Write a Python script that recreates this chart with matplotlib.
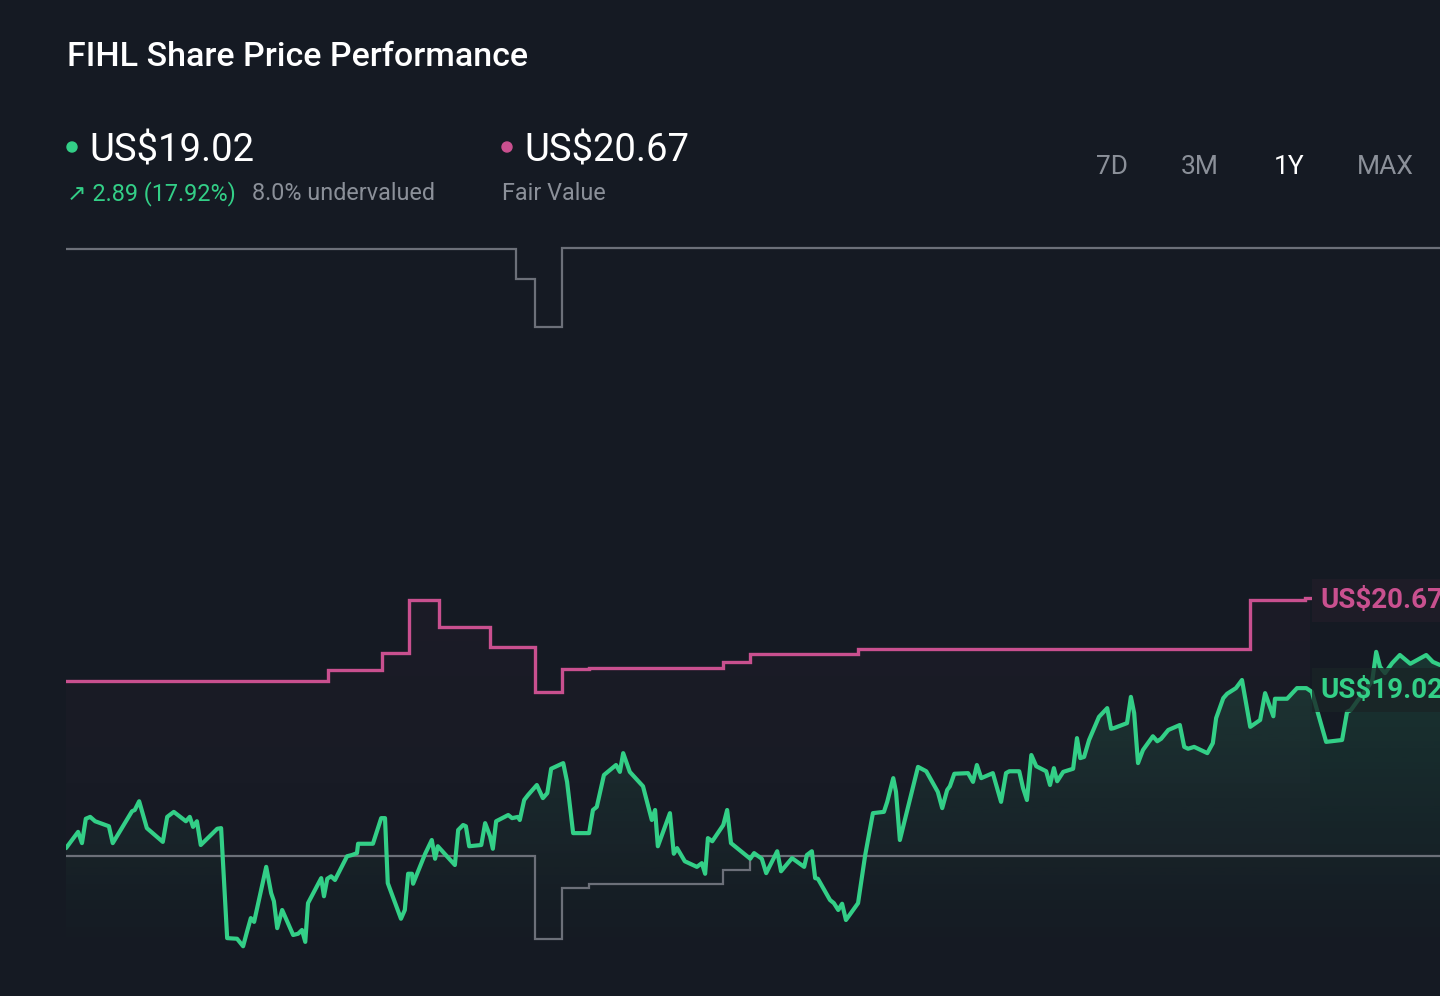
import numpy as np
import matplotlib
matplotlib.use("Agg")
import matplotlib.pyplot as plt
from matplotlib.patches import Ellipse

# ---------------- data ----------------
# trading-day index (0..~250 over 1 year) and share price (US$)
price_days = [0, 2.2, 2.9, 3.6, 4.4, 5.3, 7.8, 8.5, 12.0, 12.5, 13.3, 14.7, 17.6, 18.4, 19.6,
              21.8, 22.5, 23.1, 23.8, 24.5, 27.5, 28.2, 29.3, 31.1, 32.2, 32.9, 33.6, 34.2,
              36.4, 37.3, 37.8, 38.4, 39.3, 41.3, 42.2, 42.9, 43.5, 44.0, 46.4, 46.9, 47.5,
              48.2, 48.9, 51.1, 52.0, 52.9, 53.1, 55.8, 57.3, 58.0, 58.5, 60.9, 61.6, 62.2,
              62.9, 63.1, 65.3, 66.5, 67.1, 67.6, 70.7, 71.3, 72.2, 72.7, 73.3, 75.5, 76.2,
              77.1, 77.6, 78.2, 80.4, 81.1, 82.2, 82.5, 82.9, 83.3, 84.0, 85.6, 86.7, 87.5,
              88.2, 90.4, 91.1, 92.2, 95.1, 95.8, 96.5, 97.8, 100.0, 100.7, 101.3, 102.5,
              104.9, 106.5, 107.1, 107.6, 109.8, 110.5, 111.1, 112.5, 114.7, 115.6, 116.2,
              116.7, 117.5, 119.5, 120.2, 120.9, 124.4, 125.1, 126.5, 127.3, 129.3, 130.0,
              132.0, 134.2, 134.7, 135.6, 136.2, 136.7, 138.9, 139.6, 140.4, 141.1, 141.8,
              144.0, 145.3, 146.7, 148.7, 149.3, 150.4, 150.9, 151.6, 154.9, 156.4, 158.5,
              159.3, 160.2, 160.7, 161.5, 164.0, 164.9, 165.6, 166.4, 168.5, 170.0, 170.9,
              171.5, 173.3, 174.0, 174.7, 175.5, 176.4, 178.2, 178.9, 179.6, 180.2, 181.3,
              183.1, 183.8, 184.4, 185.1, 186.0, 187.8, 189.3, 190.0, 190.5, 192.9, 193.6,
              194.2, 194.9, 195.8, 197.6, 198.4, 199.1, 200.4, 202.5, 203.3, 204.0, 205.1,
              207.5, 208.5, 209.1, 210.4, 211.1, 212.7, 213.8, 215.3, 217.1, 218.0, 219.5,
              219.8, 222.0, 223.8, 225.5, 226.5, 229.1, 232.0, 232.9, 233.6, 234.9, 236.4,
              237.5, 238.2, 238.9, 239.8, 241.1, 242.5, 244.4, 247.3, 248.5, 249.8]
price_vals = [16.09, 16.35, 16.17, 16.56, 16.59, 16.52, 16.44, 16.17, 16.68, 16.70, 16.84, 16.41,
              16.19, 16.59, 16.67, 16.52, 16.59, 16.43, 16.52, 16.14, 16.40, 16.41, 14.65, 14.64,
              14.52, 14.75, 14.97, 14.91, 15.79, 15.37, 15.24, 14.81, 15.10, 14.70, 14.72, 14.78,
              14.59, 15.21, 15.61, 15.32, 15.60, 15.64, 15.58, 15.96, 15.98, 16.01, 16.16, 16.16,
              16.57, 16.57, 15.53, 14.96, 15.10, 15.68, 15.68, 15.52, 16.00, 16.22, 15.92, 16.12,
              15.82, 16.38, 16.46, 16.44, 16.12, 16.14, 16.49, 16.28, 16.08, 16.52, 16.62, 16.57,
              16.59, 16.54, 16.70, 16.86, 16.94, 17.10, 16.89, 16.97, 17.36, 17.45, 17.15, 16.33,
              16.33, 16.70, 16.75, 17.26, 17.42, 17.31, 17.61, 17.31, 17.08, 16.54, 16.70, 16.12,
              16.65, 16.00, 16.09, 15.88, 15.79, 15.85, 15.68, 16.25, 16.20, 16.46, 16.70, 16.17,
              15.92, 16.01, 15.92, 15.69, 16.04, 15.72, 15.93, 15.79, 15.98, 16.04, 15.61, 15.60,
              15.26, 15.21, 15.10, 15.20, 14.94, 15.21, 15.98, 16.65, 16.67, 16.83, 17.21, 16.99,
              16.22, 17.39, 17.32, 16.99, 16.73, 17.02, 17.08, 17.28, 17.29, 17.15, 17.42, 17.21,
              17.29, 16.83, 17.29, 17.32, 17.32, 17.05, 16.86, 17.58, 17.40, 17.32, 17.10, 17.37,
              17.16, 17.31, 17.36, 17.85, 17.53, 17.55, 17.82, 18.19, 18.33, 18.00, 18.01, 18.09,
              18.51, 18.25, 17.45, 17.66, 17.88, 17.80, 17.84, 17.98, 18.06, 17.71, 17.68, 17.71,
              17.61, 17.77, 18.17, 18.49, 18.56, 18.65, 18.78, 18.03, 18.14, 18.57, 18.20, 18.48,
              18.48, 18.65, 18.65, 18.59, 17.79, 17.82, 18.27, 18.30, 18.46, 18.62, 18.78, 19.23,
              18.99, 18.89, 19.05, 19.18, 19.04, 19.18, 19.07, 19.02]

# fair value (step series)
fv_days = [0, 47.6, 57.5, 62.4, 67.8, 77.1, 85.3, 90.2, 95.1, 119.5, 124.4, 144.0, 215.3, 225.3, 226.2]
fv_vals = [18.76, 18.94, 19.21, 20.06, 19.63, 19.31, 18.59, 18.96, 18.97, 19.07, 19.20, 19.28,
           20.06, 20.09, 20.09]

# upper / lower grey step series
up_days = [0, 81.8, 85.3, 90.2, 249.8]
up_vals = [25.68, 25.20, 24.43, 25.69, 25.69]
lo_days = [0, 85.3, 90.2, 95.1, 119.5, 124.4, 249.8]
lo_vals = [15.96, 14.64, 15.45, 15.52, 15.74, 15.96, 15.96]

title = "FIHL Share Price Performance"
last_price_txt = "US$19.02"
fair_value_txt = "US$20.67"
change_txt = "\u2197 2.89 (17.92%)"
valuation_txt = "8.0% undervalued"
fv_caption = "Fair Value"
ranges = ["7D", "3M", "1Y", "MAX"]
active_range = "1Y"

# ---------------- style ----------------
BG = "#151a23"
GREEN = "#33cf87"
PINK = "#c9508f"
GREYLINE = "#6c7079"
GREYTXT = "#8b9099"
FONT = ["Roboto", "DejaVu Sans"]
plt.rcParams["font.family"] = FONT

W, H = 1440, 996
fig = plt.figure(figsize=(W / 100, H / 100), dpi=100, facecolor=BG)

def fx(px):
    return px / W

def fy(py):
    return 1 - py / H

Y_LO, Y_HI = 14.30, 25.98
ax = fig.add_axes([fx(66), fy(960), fx(1440) - fx(66), (960 - 230) / H])
ax.set_facecolor(BG)
ax.set_xlim(0, 249.8)
ax.set_ylim(Y_LO, Y_HI)
ax.axis("off")

days = np.array(price_days)
vals = np.array(price_vals)

# gradient fill under the price line
poly = ax.fill_between(days, vals, Y_LO, facecolor="none", edgecolor="none")
top = vals.max()
n = 256
grad = np.zeros((n, 1, 4))
g = matplotlib.colors.to_rgb(GREEN)
grad[:, 0, 0], grad[:, 0, 1], grad[:, 0, 2] = g
grad[:, 0, 3] = np.linspace(0.0, 0.2, n) ** 1.15
im = ax.imshow(grad, extent=[0, 249.8, Y_LO, top], origin="lower", aspect="auto", zorder=1)
im.set_clip_path(poly.get_paths()[0], transform=ax.transData)

# faint gradient under fair value line
fvx = np.repeat(fv_days, 2)[1:]
fvy = np.repeat(fv_vals, 2)[:-1]
poly2 = ax.fill_between(fvx, fvy, Y_LO, facecolor="none", edgecolor="none")
grad2 = np.zeros((n, 1, 4))
p = matplotlib.colors.to_rgb(PINK)
grad2[:, 0, 0], grad2[:, 0, 1], grad2[:, 0, 2] = p
grad2[:, 0, 3] = np.linspace(0.0, 0.04, n)
im2 = ax.imshow(grad2, extent=[0, 249.8, Y_LO, max(fv_vals)], origin="lower", aspect="auto", zorder=0.5)
im2.set_clip_path(poly2.get_paths()[0], transform=ax.transData)

# grey step lines
ax.step(up_days, up_vals, where="post", color=GREYLINE, lw=1.6, zorder=2, solid_joinstyle="miter")
ax.step(lo_days, lo_vals, where="post", color=GREYLINE, lw=1.6, zorder=2, solid_joinstyle="miter")
# fair value
ax.step(fv_days, fv_vals, where="post", color=PINK, lw=2.4, zorder=3, solid_joinstyle="miter")
# price
ax.plot(days, vals, color=GREEN, lw=3.0, zorder=4, solid_joinstyle="round", solid_capstyle="round")

# right-hand value labels
ax.text(228.0, 20.05, fair_value_txt, color=PINK, fontsize=20, fontweight="bold",
        va="center", ha="left", zorder=6, clip_on=False,
        bbox=dict(boxstyle="square,pad=0.3", fc="#1e1c27", ec="none"))
ax.text(228.0, 18.62, last_price_txt, color=GREEN, fontsize=20, fontweight="bold",
        va="center", ha="left", zorder=6, clip_on=False,
        bbox=dict(boxstyle="square,pad=0.3", fc=(0.10, 0.14, 0.15, 0.78), ec="none"))

# ---------------- header ----------------
fig.text(fx(67), fy(57), title, color="white", fontsize=24.5, fontweight="medium",
         va="center", ha="left")

fig.add_artist(Ellipse((fx(72), fy(147)), 10 / W, 10 / H, transform=fig.transFigure,
                       color=GREEN))
fig.text(fx(89), fy(151), last_price_txt, color="white", fontsize=27.5, va="center", ha="left")
fig.add_artist(Ellipse((fx(507), fy(147)), 10 / W, 10 / H, transform=fig.transFigure,
                       color=PINK))
fig.text(fx(524), fy(151), fair_value_txt, color="white", fontsize=27.5, va="center", ha="left")

fig.text(fx(67), fy(194), change_txt, color=GREEN, fontsize=16.8, va="center", ha="left")
fig.text(fx(252), fy(194), valuation_txt, color=GREYTXT, fontsize=16.8, va="center", ha="left")
fig.text(fx(502), fy(194), fv_caption, color=GREYTXT, fontsize=16.8, va="center", ha="left")

for lab, cx in zip(ranges, [1112, 1200, 1289, 1385]):
    fig.text(fx(cx), fy(167), lab, color="white" if lab == active_range else GREYTXT,
             fontsize=19, va="center", ha="center")

fig.savefig("out.png", dpi=100, facecolor=BG)
